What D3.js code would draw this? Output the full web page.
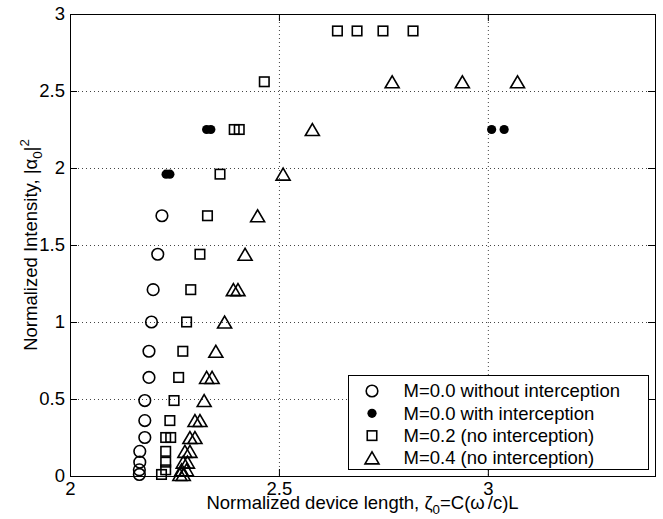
<!DOCTYPE html>
<html>
<head>
<meta charset="utf-8">
<script src="https://cdn.jsdelivr.net/npm/d3@7"></script>
<style>
  html, body { margin: 0; padding: 0; background: #fff; }
  svg { display: block; }
  text { font-family: "Liberation Sans", Arial, Helvetica, sans-serif; fill: #000; }
</style>
</head>
<body>
<svg id="chart" width="663" height="519"></svg>
<script>
// Tick values and their printed labels
const xTicks = [2, 2.5, 3];
const xTickLabels = ["2", "2.5", "3"];
const yTicks = [0, 0.5, 1, 1.5, 2, 2.5, 3];
const yTickLabels = ["0", "0.5", "1", "1.5", "2", "2.5", "3"];

// M = 0.0, without interception (open circles)
const noInterceptX = [2.166, 2.166, 2.167, 2.167, 2.179, 2.179, 2.179, 2.189, 2.189, 2.195, 2.199, 2.210, 2.220];
const noInterceptY = [0.01, 0.04, 0.09, 0.16, 0.25, 0.36, 0.49, 0.64, 0.81, 1.00, 1.21, 1.44, 1.69];

// M = 0.0, with interception (filled dots)
const interceptX = [2.230, 2.239, 2.327, 2.337, 3.009, 3.039];
const interceptY = [1.96, 1.96, 2.25, 2.25, 2.25, 2.25];

// M = 0.2, no interception (squares)
const m02X = [2.219, 2.229, 2.229, 2.229, 2.229, 2.241, 2.239, 2.249, 2.260, 2.270, 2.279, 2.289, 2.311, 2.329, 2.359, 2.393, 2.405, 2.465, 2.640, 2.687, 2.749, 2.821];
const m02Y = [0.01, 0.04, 0.09, 0.16, 0.25, 0.25, 0.36, 0.49, 0.64, 0.81, 1.00, 1.21, 1.44, 1.69, 1.96, 2.25, 2.25, 2.56, 2.89, 2.89, 2.89, 2.89];

// M = 0.4, no interception (triangles)
const m04X = [2.263, 2.271, 2.267, 2.279, 2.271, 2.281, 2.275, 2.287, 2.287, 2.299, 2.299, 2.311, 2.321, 2.327, 2.340, 2.349, 2.370, 2.391, 2.402, 2.419, 2.449, 2.510, 2.580, 2.771, 2.939, 3.071];
const m04Y = [0.01, 0.01, 0.04, 0.04, 0.09, 0.09, 0.16, 0.16, 0.25, 0.25, 0.36, 0.36, 0.49, 0.64, 0.64, 0.81, 1.00, 1.21, 1.21, 1.44, 1.69, 1.96, 2.25, 2.56, 2.56, 2.56];

const legendLabels = [
  "M=0.0 without interception",
  "M=0.0 with interception",
  "M=0.2 (no interception)",
  "M=0.4 (no interception)"
];

const W = 663, H = 519;
const margin = { left: 70, top: 14, right: 8, bottom: 43 };
const FONT = 18.5;

const svg = d3.select("#chart");
const x = d3.scaleLinear().domain([2, 3.4]).range([margin.left, W - margin.right]);
const y = d3.scaleLinear().domain([0, 3]).range([H - margin.bottom, margin.top]);
const x0 = x.range()[0], x1 = x.range()[1], y0 = y.range()[0], y1 = y.range()[1];

// dotted grid
const grid = svg.append("g").attr("stroke", "#444").attr("stroke-width", 1).attr("stroke-dasharray", "1,3");
grid.selectAll("line.gx").data(xTicks.filter(d => d > 2)).join("line")
  .attr("x1", d => x(d) + 0.5).attr("x2", d => x(d) + 0.5).attr("y1", y1).attr("y2", y0);
grid.selectAll("line.gy").data(yTicks.filter(d => d > 0 && d < 3)).join("line")
  .attr("y1", d => y(d) + 0.5).attr("y2", d => y(d) + 0.5).attr("x1", x0).attr("x2", x1);

// axes with inward ticks on all four sides
const tickLen = 7;
const fmtX = d => xTickLabels[xTicks.indexOf(d)];
const fmtY = d => yTickLabels[yTicks.indexOf(d)];
const axB = svg.append("g").attr("transform", `translate(0,${y0})`)
  .call(d3.axisBottom(x).tickValues(xTicks).tickFormat(fmtX).tickSizeInner(-tickLen).tickSizeOuter(0).tickPadding(5));
const axT = svg.append("g").attr("transform", `translate(0,${y1})`)
  .call(d3.axisTop(x).tickValues(xTicks).tickFormat("").tickSizeInner(-tickLen).tickSizeOuter(0));
const axL = svg.append("g").attr("transform", `translate(${x0},0)`)
  .call(d3.axisLeft(y).tickValues(yTicks).tickFormat(fmtY).tickSizeInner(-tickLen).tickSizeOuter(0).tickPadding(5));
const axR = svg.append("g").attr("transform", `translate(${x1},0)`)
  .call(d3.axisRight(y).tickValues(yTicks).tickFormat("").tickSizeInner(-tickLen).tickSizeOuter(0));
[axB, axT, axL, axR].forEach(g => {
  g.select(".domain").remove();
  g.selectAll("line").attr("stroke", "#000").attr("stroke-width", 1);
  g.selectAll("text").attr("font-size", FONT).attr("font-family", "Liberation Sans, Arial, sans-serif");
});
axB.selectAll("text").attr("dy", "0.75em");

// frame
svg.append("rect").attr("x", x0 + 0.5).attr("y", y1 + 0.5)
  .attr("width", x1 - x0).attr("height", y0 - y1)
  .attr("fill", "none").attr("stroke", "#000").attr("stroke-width", 1);

// marker drawers
const SW = 1.6;
const sq = 9.5, triW = 14, triH = 12, circR = 5.8, dotR = 4.6;
function drawCircle(g, cx, cy) {
  g.append("circle").attr("cx", cx).attr("cy", cy).attr("r", circR)
    .attr("fill", "none").attr("stroke", "#000").attr("stroke-width", SW);
}
function drawDot(g, cx, cy) {
  g.append("circle").attr("cx", cx).attr("cy", cy).attr("r", dotR).attr("fill", "#000");
}
function drawSquare(g, cx, cy) {
  g.append("rect").attr("x", cx - sq / 2).attr("y", cy - sq / 2).attr("width", sq).attr("height", sq)
    .attr("fill", "none").attr("stroke", "#000").attr("stroke-width", SW);
}
function drawTriangle(g, cx, cy) {
  g.append("path")
    .attr("d", `M${cx - triW / 2},${cy + triH / 2}L${cx},${cy - triH / 2}L${cx + triW / 2},${cy + triH / 2}Z`)
    .attr("fill", "none").attr("stroke", "#000").attr("stroke-width", SW).attr("stroke-linejoin", "miter");
}

const series = [
  { xs: noInterceptX, ys: noInterceptY, draw: drawCircle },
  { xs: interceptX, ys: interceptY, draw: drawDot },
  { xs: m02X, ys: m02Y, draw: drawSquare },
  { xs: m04X, ys: m04Y, draw: drawTriangle }
];

const marks = svg.append("g");
series.forEach(s => {
  const g = marks.append("g");
  s.xs.forEach((v, i) => s.draw(g, x(v), y(s.ys[i])));
});

// legend
const lg = svg.append("g");
const lgX = 348.5, lgY = 375.5, lgW = 300, lgH = 94;
lg.append("rect").attr("x", lgX).attr("y", lgY).attr("width", lgW).attr("height", lgH)
  .attr("fill", "#fff").attr("stroke", "#000").attr("stroke-width", 1);
legendLabels.forEach((t, i) => {
  const cy = lgY + 15.5 + i * 22.3;
  series[i].draw(lg, lgX + 23.5, cy);
  lg.append("text").attr("x", lgX + 55).attr("y", cy).attr("dy", "0.35em")
    .attr("font-size", FONT).text(t);
});

// x-axis label
const xl = svg.append("text").attr("x", (x0 + x1) / 2).attr("y", 509)
  .attr("text-anchor", "middle").attr("font-size", FONT);
xl.append("tspan").text("Normalized device length, \u03B6");
xl.append("tspan").attr("font-size", FONT * 0.72).attr("dy", 5).text("0");
xl.append("tspan").attr("dy", -5).text("=C(\u03C9");
xl.append("tspan").attr("dx", 3).text("/c)L");

// y-axis label
const yl = svg.append("text")
  .attr("transform", `translate(37,${(y0 + y1) / 2}) rotate(-90)`)
  .attr("text-anchor", "middle").attr("font-size", FONT);
yl.append("tspan").text("Normalized Intensity, |\u03B1");
yl.append("tspan").attr("font-size", FONT * 0.72).attr("dy", 5).text("0");
yl.append("tspan").attr("dy", -5).text("|");
yl.append("tspan").attr("font-size", FONT * 0.72).attr("dy", -8).text("2");
</script>
</body>
</html>
